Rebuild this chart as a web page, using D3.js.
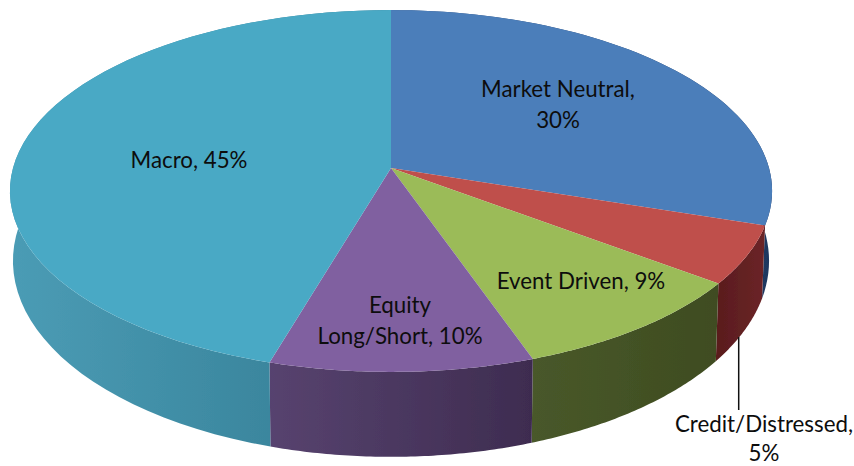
<!DOCTYPE html>
<html>
<head>
<meta charset="utf-8">
<script src="https://cdn.jsdelivr.net/npm/d3@7"></script>
<style>
body { margin: 0; background: #fff; }
text { font-family: Lato, "Open Sans", sans-serif; font-size: 22.3px; fill: #0d0d0d; }
</style>
</head>
<body>
<div id="chart-area"></div>
<script>
// Chart data
const categories = ["Market Neutral", "Credit/Distressed", "Event Driven", "Equity Long/Short", "Macro"];
const shares = [30, 5.2, 9.4, 9.9, 45.4]; // the labels are rounded
const topColors = ["#4c7eba", "#bf4f4c", "#9bbb59", "#8060a0", "#4aa9c5"];
const wallLeft = ["#2f5484", "#5a1c1e", "#48582a", "#57436f", "#4b9cb5"];
const wallRight = ["#1f3760", "#6b2527", "#3f4c20", "#3e2c50", "#337c93"];
const labelLines = [["Market Neutral,", "30%"], ["Credit/Distressed,", "5%"], ["Event Driven, 9%"], ["Equity", "Long/Short, 10%"], ["Macro, 45%"]];

// Set up chart dimensions
const width = 854;
const height = 466;
const cx = 391;
const tilt = 0.127; // perspective, the front of the disc is bigger than the back

// Top and bottom faces of the disc
const topFace = { r: 378, s: 178, y: 168 };
const bottomFace = { r: 375, s: 192.8, y: 236 };

// Label anchors, each is a text center
const labelX = [558, 764, 581, 400, 189];
const labelY = [97, 432, 289, 313, 168];
const lineGap = [30.5, 29, 30.5, 30.5, 30.5];

// Project an angle on the unit circle to the screen, radius 1 is the rim
function project(face, angle, radius = 1) {
    const u = Math.sin(angle) * radius;
    const v = -Math.cos(angle) * radius;
    const d = 1 - tilt * v;
    return [cx + face.r * u / d, face.y + face.s * v / d];
}

function arcPoints(face, start, end) {
    return d3.range(0, 61).map(i => project(face, start + (end - start) * i / 60));
}

const svg = d3.select("#chart-area")
    .append("svg")
    .attr("width", width)
    .attr("height", height)
    .style("display", "block");

const defs = svg.append("defs");

// slight softness, the source is a scaled screenshot
defs.append("filter")
    .attr("id", "soft")
    .append("feGaussianBlur")
    .attr("stdDeviation", 0.6);

const slices = d3.pie().sort(null).value(d => d)(shares);
const line = d3.line();

// Horizontal gradient for each wall
slices.forEach((d, i) => {
    const xs = arcPoints(topFace, d.startAngle, d.endAngle).map(p => p[0]);
    const grad = defs.append("linearGradient")
        .attr("id", "wall" + i)
        .attr("gradientUnits", "userSpaceOnUse")
        .attr("x1", d3.min(xs))
        .attr("x2", d3.max(xs))
        .attr("y1", 0)
        .attr("y2", 0);
    grad.append("stop").attr("offset", 0).attr("stop-color", wallLeft[i]);
    grad.append("stop").attr("offset", 1).attr("stop-color", wallRight[i]);
});

const pie = svg.append("g").attr("filter", "url(#soft)");

// Walls first, the top face covers whatever is behind it
pie.selectAll(".wall")
    .data(slices)
    .enter()
    .append("path")
    .attr("class", "wall")
    .attr("d", d => {
        const upper = arcPoints(topFace, d.startAngle, d.endAngle);
        const lower = arcPoints(bottomFace, d.startAngle, d.endAngle).reverse();
        return line(upper.concat(lower)) + "Z";
    })
    .attr("fill", (d, i) => `url(#wall${i})`);

pie.selectAll(".face")
    .data(slices)
    .enter()
    .append("path")
    .attr("class", "face")
    .attr("d", d => line([project(topFace, 0, 0)].concat(arcPoints(topFace, d.startAngle, d.endAngle))) + "Z")
    .attr("fill", (d, i) => topColors[i]);

// Leader line for the small slice
svg.append("line")
    .attr("x1", 738.7)
    .attr("x2", 738.7)
    .attr("y1", 337)
    .attr("y2", 410)
    .attr("stroke", "#111")
    .attr("stroke-width", 1.5);

// Labels
const labels = svg.selectAll(".slice-label")
    .data(categories)
    .enter()
    .append("text")
    .attr("class", "slice-label")
    .attr("text-anchor", "middle")
    .attr("y", (d, i) => labelY[i]);

labels.selectAll("tspan")
    .data((d, i) => labelLines[i].map(t => ({ t, i })))
    .enter()
    .append("tspan")
    .attr("x", d => labelX[d.i])
    .attr("dy", (d, j) => j === 0 ? 0 : lineGap[d.i])
    .text(d => d.t);
</script>
</body>
</html>
